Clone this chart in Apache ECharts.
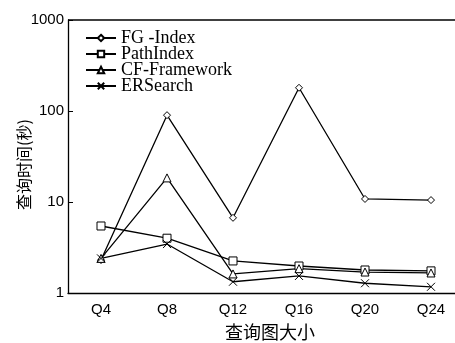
<!DOCTYPE html>
<html><head><meta charset="utf-8">
<script src="https://cdn.jsdelivr.net/npm/echarts@6/dist/echarts.min.js"></script>
<style>html,body{margin:0;padding:0;background:#fff}#c{width:455px;height:343px}</style>
</head><body><div id="c"></div>
<script>
var categories = ['Q4','Q8','Q12','Q16','Q20','Q24'];
var fgIndex = [2.3, 90, 6.7, 180, 10.8, 10.5];
var pathIndex = [5.45, 4.0, 2.25, 1.98, 1.79, 1.75];
var cfFramework = [2.4, 18.4, 1.62, 1.85, 1.7, 1.66];
var erSearch = [2.4, 3.45, 1.33, 1.54, 1.28, 1.17];
var seriesNames = ['FG -Index','PathIndex','CF-Framework','ERSearch'];
var yTicks = [1, 10, 100, 1000];

var xPath = 'path://M0,0L10,10M10,0L0,10';
function mk(name, data, symbol, size) {
  return {
    name: name, type: 'line', data: data,
    symbol: symbol, symbolSize: size,
    lineStyle: {color: '#000', width: 1.3},
    itemStyle: {color: '#fff', borderColor: '#000', borderWidth: 1},
    emphasis: {disabled: true},
    animation: false
  };
}
var chart = echarts.init(document.getElementById('c'), null, {renderer: 'canvas'});
chart.setOption({
  animation: false,
  backgroundColor: '#fff',
  grid: {left: 68, top: 20, width: 396, height: 273, show: false, containLabel: false, outerBoundsMode: 'none'},
  legend: {
    orient: 'vertical', left: 85, top: 29, padding: 0, itemWidth: 30, itemHeight: 8, itemGap: -2,
    textStyle: {fontFamily: 'Liberation Serif', fontSize: 18, lineHeight: 16, color: '#000'},
    data: seriesNames
  },
  xAxis: {
    type: 'category', data: categories, boundaryGap: true,
    axisLine: {lineStyle: {color: '#000', width: 1.3}},
    axisTick: {inside: true, length: 7, lineStyle: {color: '#000'}},
    axisLabel: {fontFamily: 'Liberation Sans', fontSize: 15, color: '#000', margin: 9},
    name: '查询图大小', nameLocation: 'middle', nameGap: 30,
    nameTextStyle: {fontFamily: 'Noto Sans CJK SC', fontSize: 18, color: '#000', padding: [0, 0, 0, 8]}
  },
  yAxis: {
    type: 'log', logBase: 10, min: yTicks[0], max: yTicks[yTicks.length-1],
    axisLine: {show: true, lineStyle: {color: '#000', width: 1.3}},
    axisTick: {show: true, inside: true, length: 5, lineStyle: {color: '#000'}},
    axisLabel: {fontFamily: 'Liberation Sans', fontSize: 15, color: '#000', margin: 4,
      formatter: function (v) { return String(Math.round(v)); }},
    splitLine: {show: false},
    name: '查询时间(秒)', nameLocation: 'middle', nameGap: 36, nameMoveOverlap: false,
    nameTextStyle: {fontFamily: 'Noto Sans CJK SC', fontSize: 16, color: '#000', padding: [0, 16, 0, 0]}
  },
  graphic: [{type: 'line', shape: {x1: 68, y1: 20, x2: 455, y2: 20}, style: {stroke: '#000', lineWidth: 1.3}}],
  series: [
    mk(seriesNames[0], fgIndex, 'diamond', 7),
    mk(seriesNames[1], pathIndex, 'rect', 8),
    mk(seriesNames[2], cfFramework, 'triangle', 8),
    mk(seriesNames[3], erSearch, xPath, 8)
  ]
});
</script></body></html>
